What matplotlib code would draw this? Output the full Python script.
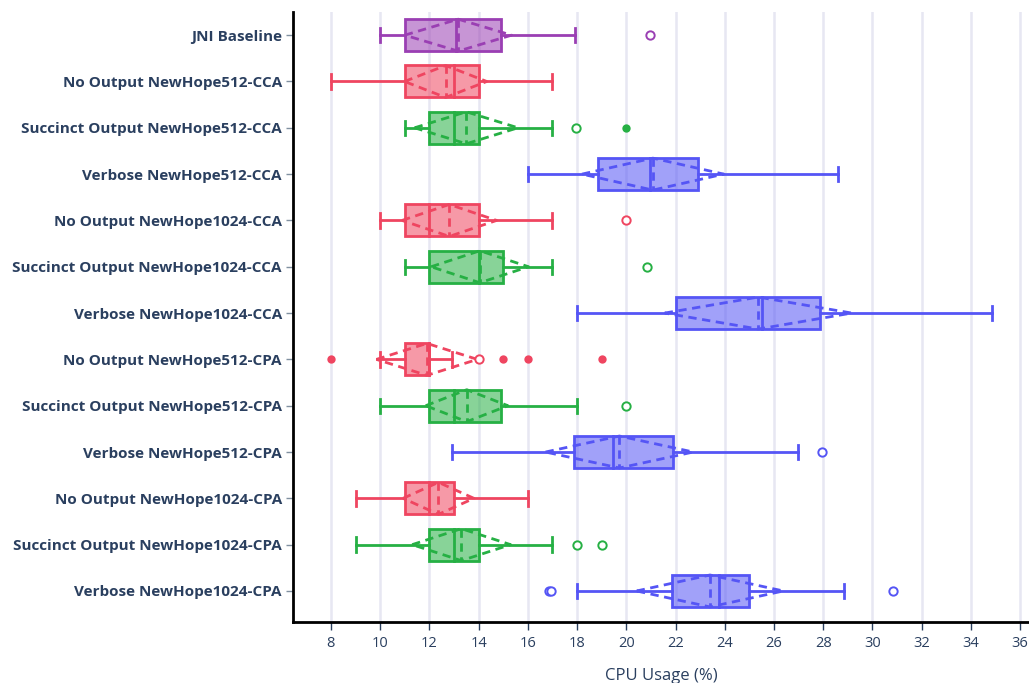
import matplotlib.pyplot as plt
import numpy as np

plt.rcParams['font.family'] = ['Open Sans', 'DejaVu Sans']

labels = ['JNI Baseline',
          'No Output NewHope512-CCA',
          'Succinct Output NewHope512-CCA',
          'Verbose NewHope512-CCA',
          'No Output NewHope1024-CCA',
          'Succinct Output NewHope1024-CCA',
          'Verbose NewHope1024-CCA',
          'No Output NewHope512-CPA',
          'Succinct Output NewHope512-CPA',
          'Verbose NewHope512-CPA',
          'No Output NewHope1024-CPA',
          'Succinct Output NewHope1024-CPA',
          'Verbose NewHope1024-CPA']
groups = ['jni', 'none', 'succinct', 'verbose', 'none', 'succinct', 'verbose',
          'none', 'succinct', 'verbose', 'none', 'succinct', 'verbose']

whislo = [10, 8, 11, 16, 10, 11, 18, 10, 10, 12.9, 9, 9, 18]
q1 = [11, 11, 12, 18.86, 11, 12, 22, 11, 12, 17.87, 11, 12, 21.87]
med = [13.07, 13, 13, 20.96, 12, 14, 25.5, 12, 13, 19.45, 12, 13, 23.77]
q3 = [14.9, 14, 14, 22.9, 14, 15, 27.87, 12, 14.9, 21.88, 13, 14, 25]
whishi = [17.9, 17, 17, 28.62, 17, 17, 34.85, 12.9, 18, 26.96, 16, 17, 28.85]
mean = [13.17, 12.66, 13.5, 21.08, 12.81, 14.05, 25.36, 11.9, 13.52, 19.72, 12.37, 13.3, 23.4]
sd = [2.17, 1.67, 2.1, 2.88, 1.92, 1.98, 3.8, 2.05, 1.67, 3.0, 1.44, 2.0, 2.98]

out_open = [[20.96], [], [17.96], [], [19.97], [20.86], [],
            [14.0], [20.0], [27.95], [], [18, 19], [16.85, 16.95, 30.85]]
out_filled = [[], [], [20.0], [], [], [], [],
              [8, 15, 16, 19], [], [], [], [], []]

colors = {'jni': '#9a3fb3', 'none': '#ef4560', 'succinct': '#26b044', 'verbose': '#5555f5'}

fig = plt.figure(figsize=(10.29, 6.83), dpi=100)
ax = fig.add_axes([293 / 1029, 61 / 683, 736 / 1029, 610 / 683])

bh = 0.69   # box height in row units
ch = 0.31   # cap height

for i in range(len(labels)):
    c = colors[groups[i]]
    ax.barh(i, q3[i] - q1[i], left=q1[i], height=bh, color=c, alpha=0.55,
            edgecolor='none', zorder=3)
    ax.barh(i, q3[i] - q1[i], left=q1[i], height=bh, color='none',
            edgecolor=c, linewidth=2, zorder=4)
    ax.plot([med[i], med[i]], [i - bh / 2, i + bh / 2], color=c, lw=2, zorder=5)
    ax.plot([whislo[i], q1[i]], [i, i], color=c, lw=2, zorder=4)
    ax.plot([q3[i], whishi[i]], [i, i], color=c, lw=2, zorder=4)
    ax.plot([whislo[i], whislo[i]], [i - ch / 2, i + ch / 2], color=c, lw=2, zorder=4)
    ax.plot([whishi[i], whishi[i]], [i - ch / 2, i + ch / 2], color=c, lw=2, zorder=4)
    # mean +/- sd diamond
    m, s = mean[i], sd[i]
    ax.plot([m - s, m, m + s, m, m - s], [i, i - bh / 2, i, i + bh / 2, i],
            color=c, lw=2, ls=(0, (3, 2)), zorder=5)
    ax.plot([m, m], [i - bh / 2, i + bh / 2], color=c, lw=2, ls=(0, (3, 2)), zorder=5)
    if out_open[i]:
        ax.scatter(out_open[i], [i] * len(out_open[i]), s=36, facecolors='white',
                   edgecolors=c, linewidths=1.4, zorder=6)
    if out_filled[i]:
        ax.scatter(out_filled[i], [i] * len(out_filled[i]), s=36, color=c,
                   linewidths=0, zorder=6)

ax.set_xlim(6.46, 36.36)
ax.set_ylim(12.67, -0.5)
ax.set_xticks(np.arange(8, 37, 2))
ax.set_yticks(range(len(labels)))
ax.set_yticklabels(labels, fontweight='bold', fontsize=11, color='#2a3f5f')
ax.tick_params(axis='x', labelsize=10.5, labelcolor='#2a3f5f', length=6, width=1,
               color='#2a3f5f', direction='out', pad=4)
ax.tick_params(axis='y', length=5, width=1, color='#8090a0', pad=3)
ax.grid(axis='x', color='#e7e7f2', lw=1.8, zorder=0)
ax.set_axisbelow(True)
for side in ['top', 'right']:
    ax.spines[side].set_visible(False)
for side in ['left', 'bottom']:
    ax.spines[side].set_linewidth(2)
    ax.spines[side].set_color('black')
ax.set_xlabel('CPU Usage (%)', fontsize=12, color='#2a3f5f', labelpad=12)

fig.savefig('out.png', dpi=100)
